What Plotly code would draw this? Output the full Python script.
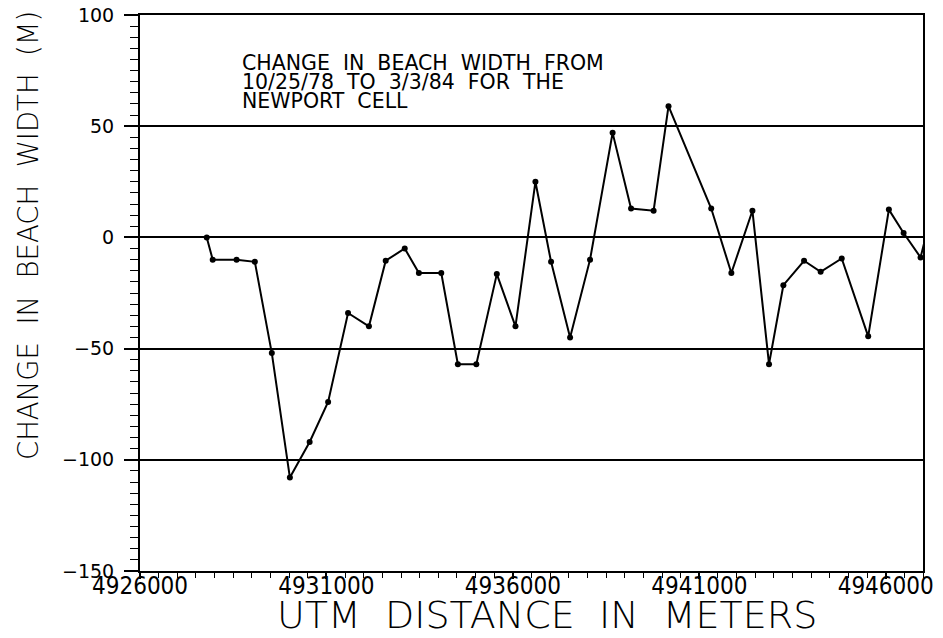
import plotly.graph_objects as go

# Data
utm_distance = [4927790, 4927950, 4928590, 4929080, 4929535, 4930020, 4930550,
                4931045, 4931580, 4932140, 4932590, 4933100, 4933480, 4934080,
                4934525, 4935020, 4935570, 4936070, 4936605, 4937025, 4937535,
                4938070, 4938675, 4939170, 4939775, 4940175, 4941320, 4941860,
                4942425, 4942870, 4943255, 4943810, 4944255, 4944820, 4945530,
                4946085, 4946480, 4946935, 4947090]
width_change = [0, -10, -10, -11, -52, -108, -92,
                -74, -34, -40, -10.5, -5, -16, -16,
                -57, -57, -16.5, -40, 25, -11, -45,
                -10, 47, 13, 12, 59, 13, -16,
                12, -57, -21.5, -10.5, -15.5, -9.5, -44.5,
                12.5, 2, -9, 1.5]

x_tick_values = [4926000, 4931000, 4936000, 4941000, 4946000]
x_tick_labels = ["4926000", "4931000", "4936000", "4941000", "4946000"]
y_tick_values = [100, 50, 0, -50, -100, -150]
y_tick_labels = ["100", "50", "0", "\u221250", "\u2212100", "\u2212150"]

title_lines = ["CHANGE  IN  BEACH  WIDTH  FROM",
               "10/25/78  TO  3/3/84  FOR  THE",
               "NEWPORT  CELL"]
title_line_y = [0.9137, 0.8795, 0.8453]
x_title = "UTM  DISTANCE  IN  METERS"
y_title = "CHANGE  IN  BEACH  WIDTH  (M)"

narrow = "DejaVu Sans Condensed, Liberation Sans Narrow, sans-serif"

fig = go.Figure()
fig.add_trace(go.Scatter(
    x=utm_distance, y=width_change, mode="lines+markers",
    line=dict(color="black", width=2),
    marker=dict(color="black", size=6),
    cliponaxis=False, showlegend=False,
))

annotations = []
for line, ly in zip(title_lines, title_line_y):
    annotations.append(dict(
        text=line, xref="paper", yref="paper", x=0.1277, y=ly,
        xanchor="left", yanchor="middle", align="left", showarrow=False,
        font=dict(family="DejaVu Sans", size=20.5, color="black")))
annotations.append(dict(
    text=x_title, xref="paper", yref="paper", x=0.52, y=-0.0791,
    xanchor="center", yanchor="middle", showarrow=False,
    font=dict(family="DejaVu Sans", size=38, color="black", weight=200)))
annotations.append(dict(
    text=y_title, xref="paper", yref="paper", x=-0.143, y=0.6025,
    xanchor="center", yanchor="middle", textangle=-90, showarrow=False,
    font=dict(family="DejaVu Sans", size=27.5, color="black", weight=200)))

fig.update_layout(
    width=943, height=638,
    margin=dict(l=140, r=20, t=15, b=67, autoexpand=False),
    paper_bgcolor="white", plot_bgcolor="white",
    font=dict(family="DejaVu Sans", color="black"),
    xaxis=dict(
        range=[4926000, 4947000], tickvals=x_tick_values, ticktext=x_tick_labels,
        showgrid=False, zeroline=False, automargin=False,
        showline=True, linecolor="black", linewidth=2, mirror=True,
        ticks="outside", ticklen=6, tickwidth=1.5, tickcolor="black",
        minor=dict(dtick=500, tick0=4926000, ticks="outside", ticklen=5,
                   tickwidth=1.2, tickcolor="black", showgrid=False),
        tickfont=dict(family=narrow, size=24, color="black"),
        ticklabelstandoff=-14,
    ),
    yaxis=dict(
        range=[-150, 100], tickvals=y_tick_values, ticktext=y_tick_labels,
        showgrid=True, gridcolor="black", gridwidth=2, zeroline=False,
        automargin=False,
        showline=True, linecolor="black", linewidth=2, mirror=True,
        ticks="outside", ticklen=14, tickwidth=1.5, tickcolor="black",
        minor=dict(dtick=5, tick0=0, ticks="outside", ticklen=8,
                   tickwidth=1.2, tickcolor="black", showgrid=False),
        tickfont=dict(family="DejaVu Sans", size=19, color="black"),
        ticklabelstandoff=6,
    ),
    annotations=annotations,
)

fig.write_html("out.html")
